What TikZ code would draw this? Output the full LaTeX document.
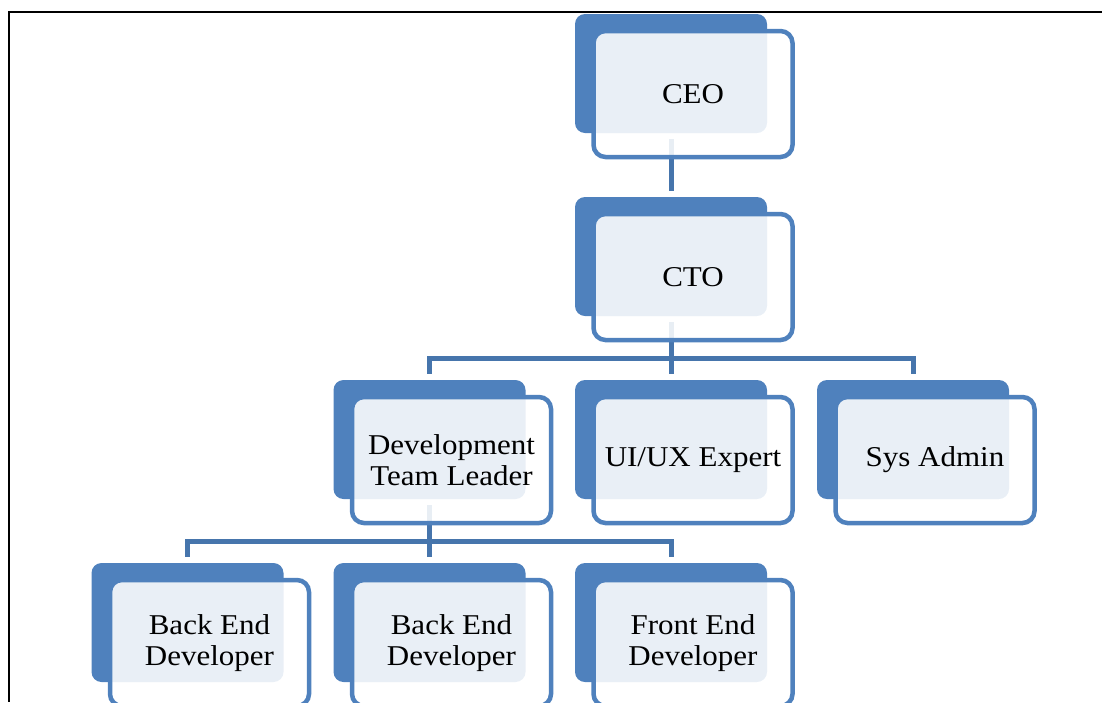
\documentclass[tikz,border=0pt]{standalone}
\usepackage{fontspec}
\setmainfont{Liberation Serif}[FakeStretch=1.08]
\definecolor{boxblue}{RGB}{79,129,189}
\definecolor{linkblue}{RGB}{70,117,172}
\pgfdeclarelayer{bg}
\pgfsetlayers{bg,main}
\begin{document}
\begin{tikzpicture}[x=1pt,y=-1pt,
  back/.style={fill=boxblue,draw=none,rounded corners=10pt,minimum width=192pt,minimum height=119pt,inner sep=0pt},
  front/.style={draw=boxblue,line width=4.5pt,fill=white,fill opacity=0.88,text opacity=1,rounded corners=12pt,
    minimum width=199pt,minimum height=126pt,inner sep=0pt,align=center,font=\fontsize{28.7}{31}\selectfont},
  link/.style={draw=linkblue,line width=5pt}]
\useasboundingbox (0,0) rectangle (1102,702);
\clip (0,0) rectangle (1102,702);
% frame
\draw[line width=2pt] (1102,11.5) -- (9,11.5) -- (9,702);
% row 1
\node[back] (ceob) at (671,73.5) {};
\node[front] (ceo) at (693,94) {CEO};
% row 2
\node[back] (ctob) at (671,256.5) {};
\node[front] (cto) at (693,277) {CTO};
% row 3
\node[back] (devb) at (429.5,439.5) {};
\node[front] (dev) at (451.5,460) {Development\\Team Leader};
\node[back] (uib) at (671,439.5) {};
\node[front] (ui) at (693,460) {UI/UX Expert};
\node[back] (sysb) at (913,439.5) {};
\node[front] (sys) at (935,460) {Sys Admin};
% row 4
\node[back] (be1b) at (187.5,622.5) {};
\node[front] (be1) at (209.5,643) {Back End\\Developer};
\node[back] (be2b) at (429.5,622.5) {};
\node[front] (be2) at (451.5,643) {Back End\\Developer};
\node[back] (feb) at (671,622.5) {};
\node[front] (fe) at (693,643) {Front End\\Developer};
% connectors
\begin{pgfonlayer}{bg}
\draw[link] ([yshift=-6pt]ceob.south) -- ([yshift=6pt]ctob.north);
\draw[link] ([yshift=-6pt]ctob.south) -- ([yshift=6pt]uib.north);
\draw[link] ([yshift=6pt]devb.north) -- ([yshift=21.5pt]devb.north) -- ([yshift=21.5pt]sysb.north) -- ([yshift=6pt]sysb.north);
\draw[link] ([yshift=-6pt]devb.south) -- ([yshift=6pt]be2b.north);
\draw[link] ([yshift=6pt]be1b.north) -- ([yshift=21.5pt]be1b.north) -- ([yshift=21.5pt]feb.north) -- ([yshift=6pt]feb.north);
\end{pgfonlayer}
\end{tikzpicture}
\end{document}
